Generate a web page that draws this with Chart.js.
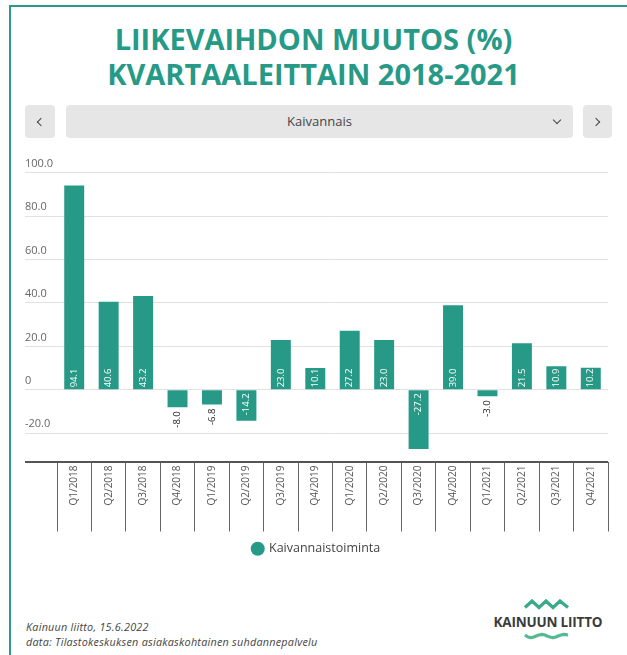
<!DOCTYPE html>
<html lang="fi">
<head>
<meta charset="utf-8">
<title>Liikevaihdon muutos</title>
<script src="https://cdn.jsdelivr.net/npm/chart.js@4.4.1/dist/chart.umd.min.js"></script>
<style>
    html, body { margin: 0; padding: 0; background: #fff; overflow: hidden; }
    body { width: 627px; height: 655px; position: relative; font-family: "Open Sans", sans-serif; }
    #frame { position: absolute; left: 9px; top: 5px; width: 700px; height: 700px; border: 2px solid #2a9a88; box-sizing: border-box; }
    .title { position: absolute; left: 0; top: 21px; width: 627px; margin: 0; text-align: center; color: #279a87;
             font-family: "Open Sans", sans-serif; font-weight: 700; font-size: 29px; line-height: 35px; }
    .btn { position: absolute; top: 105px; height: 33px; background: #e6e6e6; border-radius: 4px; color: #444;
           font-size: 13px; line-height: 33px; text-align: center; }
    .chev { position: absolute; width: 5px; height: 5px; border-right: 1.6px solid #444; border-bottom: 1.6px solid #444; }
    #wrap { position: absolute; left: 0; top: 150px; width: 627px; height: 420px; }
    .source { position: absolute; left: 26px; top: 619px; font-size: 10.8px; font-style: italic; color: #444; line-height: 15px; letter-spacing: 0.25px; }
    .logoText { position: absolute; left: 488px; top: 613px; width: 120px; text-align: center; font-weight: 700; font-size: 13.5px;
                color: #3b3b3b; letter-spacing: -0.2px; line-height: 18px; }
    .logoMark { position: absolute; left: 488px; width: 120px; display: block; }
</style>
</head>
<body>
<div id="frame"></div>
<h1 class="title">LIIKEVAIHDON MUUTOS (%)<br>KVARTAALEITTAIN 2018-2021</h1>

<div class="btn" style="left:25px;width:30px;"><div class="chev" style="left:13px;top:14px;transform:rotate(135deg);"></div></div>
<div class="btn" style="left:66px;width:507px;">Kaivannais<div class="chev" style="left:488px;top:12px;transform:rotate(45deg);"></div></div>
<div class="btn" style="left:583px;width:29px;"><div class="chev" style="left:10px;top:14px;transform:rotate(-45deg);"></div></div>

<div id="wrap"><canvas id="muutosChart"></canvas></div>

<div class="source">Kainuun liitto, 15.6.2022<br>data: Tilastokeskuksen asiakaskohtainen suhdannepalvelu</div>

<svg class="logoMark" style="top:599px;" width="120" height="11" viewBox="0 0 120 11">
    <polyline points="37,8.5 44,2 51,8.5 58,2 65,8.5 72,2 80,8.5" fill="none" stroke="#3aa98c" stroke-width="3.2"/>
</svg>
<div class="logoText">KAINUUN LIITTO</div>
<svg class="logoMark" style="top:631px;" width="120" height="10" viewBox="0 0 120 10">
    <polyline points="37,4 40,6 43,6.6 46,6 48,5 51,4 54,3.4 57,4 59,5 62,6 65,6.6 68,6 70,5 73,4 76,3.4 80,4" fill="none" stroke="#56b995" stroke-width="3.2" stroke-linejoin="round"/>
</svg>

<script>
    const kvartaalit = ['Q1/2018', 'Q2/2018', 'Q3/2018', 'Q4/2018',
                        'Q1/2019', 'Q2/2019', 'Q3/2019', 'Q4/2019',
                        'Q1/2020', 'Q2/2020', 'Q3/2020', 'Q4/2020',
                        'Q1/2021', 'Q2/2021', 'Q3/2021', 'Q4/2021'];
    const kaivannaistoiminta = [94.1, 40.6, 43.2, -8.0,
                                -6.8, -14.2, 23.0, 10.1,
                                27.2, 23.0, -27.2, 39.0,
                                -3.0, 21.5, 10.9, 10.2];
    const yMin = -33;
    const yMax = 100;
    const yStep = 20;

    const teal = '#279a87';

    // arvot pylväiden sisään / alle, käännettynä pystyyn
    const arvoLabels = {
        id: 'arvoLabels',
        afterDatasetsDraw(chart) {
            const ctx = chart.ctx;
            const meta = chart.getDatasetMeta(0);
            ctx.save();
            ctx.font = '9.5px "Open Sans"';
            ctx.textBaseline = 'middle';
            meta.data.forEach((bar, i) => {
                const v = kaivannaistoiminta[i];
                const txt = v.toFixed(1);
                const w = ctx.measureText(txt).width;
                const h = Math.abs(bar.base - bar.y);
                const inside = h >= w + 2.5;
                let y;
                if (v >= 0) {
                    y = inside ? bar.base - 2 : bar.y - 4;
                    ctx.textAlign = 'left';
                } else {
                    y = inside ? bar.base + 3 : bar.y + 4;
                    ctx.textAlign = 'right';
                }
                ctx.fillStyle = inside ? '#ffffff' : '#222222';
                ctx.save();
                ctx.translate(bar.x, y);
                ctx.rotate(-Math.PI / 2);
                ctx.fillText(txt, 0, 0);
                ctx.restore();
            });
            ctx.restore();
        }
    };

    const ctx = document.getElementById('muutosChart').getContext('2d');
    const muutosChart = new Chart(ctx, {
        type: 'bar',
        data: {
            labels: kvartaalit,
            datasets: [{
                label: 'Kaivannaistoiminta',
                data: kaivannaistoiminta,
                backgroundColor: teal,
                borderWidth: 0,
                barPercentage: 0.58,
                categoryPercentage: 1
            }]
        },
        plugins: [arvoLabels],
        options: {
            responsive: true,
            maintainAspectRatio: false,
            animation: false,
            layout: {
                padding: { left: 25, right: 19, top: 22.7, bottom: 5 }
            },
            plugins: {
                legend: {
                    position: 'bottom',
                    labels: {
                        usePointStyle: true,
                        pointStyle: 'circle',
                        boxWidth: 10,
                        boxHeight: 10,
                        color: '#444',
                        font: { family: '"Open Sans"', size: 12.5 }
                    }
                },
                tooltip: { enabled: false }
            },
            scales: {
                x: {
                    border: { display: false },
                    grid: {
                        drawOnChartArea: false,
                        drawTicks: true,
                        tickLength: 70,
                        color: '#666'
                    },
                    ticks: {
                        color: '#555',
                        font: { family: '"Open Sans"', size: 10 },
                        minRotation: 90,
                        maxRotation: 90,
                        padding: -66,
                        autoSkip: false
                    },
                    afterFit: (scale) => { scale.height = 71; }
                },
                y: {
                    min: yMin,
                    max: yMax,
                    border: { display: false },
                    grid: {
                        tickLength: 32,
                        color: (c) => c.tick && c.tick.value === yMin ? '#555' : '#e1e1e1',
                        lineWidth: (c) => c.tick && c.tick.value === yMin ? 2 : 1
                    },
                    ticks: {
                        stepSize: yStep,
                        crossAlign: 'far',
                        labelOffset: -9,
                        color: '#666',
                        font: { family: '"Open Sans"', size: 11 },
                        callback: (v) => v === yMin ? '' : (v === 0 ? '0' : v.toFixed(1))
                    },
                    afterFit: (scale) => { scale.width = 32; }
                }
            }
        }
    });
</script>
</body>
</html>
